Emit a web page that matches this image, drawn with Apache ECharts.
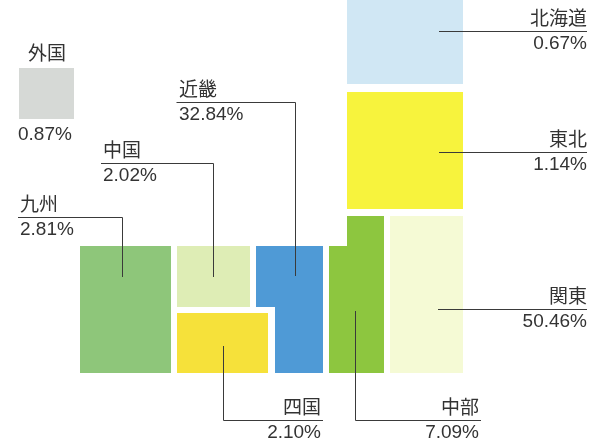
<!DOCTYPE html>
<html>
<head>
<meta charset="utf-8">
<script src="https://cdn.jsdelivr.net/npm/echarts@6/dist/echarts.min.js"></script>
<style>
html,body{margin:0;padding:0;background:#fff;}
#chart{width:599px;height:445px;}
</style>
</head>
<body>
<div id="chart"></div>
<script>
// ---- data ----
const regions = ['北海道', '東北', '関東', '中部', '近畿', '中国', '四国', '九州', '外国'];
const shares = [0.67, 1.14, 50.46, 7.09, 32.84, 2.02, 2.10, 2.81, 0.87];

// ---- styles ----
const regionColors = ['#d0e7f4', '#f7f33d', '#f5fad5', '#8dc63f', '#4f9ad6', '#deedb5', '#f6e13a', '#8ec67a', '#d6d9d6'];

// ---- tile-map layout (schematic shapes, in layout units) ----
const tileShapes = {
  '北海道': [[347, -5], [463, -5], [463, 84], [347, 84]],
  '東北': [[347, 92], [463, 92], [463, 209], [347, 209]],
  '関東': [[390, 216], [463, 216], [463, 373], [390, 373]],
  '中部': [[329, 246], [347, 246], [347, 216], [384, 216], [384, 373], [329, 373]],
  '近畿': [[256, 246], [323, 246], [323, 373], [275, 373], [275, 307], [256, 307]],
  '中国': [[177, 246], [250, 246], [250, 307], [177, 307]],
  '四国': [[177, 313], [268, 313], [268, 373], [177, 373]],
  '九州': [[80, 246], [171, 246], [171, 373], [80, 373]],
  '外国': [[19, 68], [74, 68], [74, 119], [19, 119]]
};
// leader lines and label anchors
const labelLayout = {
  '北海道': {line: [[439, 31.5], [587, 31.5]], anchor: [587, 31.5], align: 'right'},
  '東北': {line: [[439, 152.5], [587, 152.5]], anchor: [587, 152.5], align: 'right'},
  '関東': {line: [[438, 309.5], [587, 309.5]], anchor: [587, 309.5], align: 'right'},
  '中部': {line: [[355.5, 311], [355.5, 420.5], [481, 420.5]], anchor: [479, 420.5], align: 'right'},
  '四国': {line: [[223.5, 346], [223.5, 420.5], [323, 420.5]], anchor: [321, 420.5], align: 'right'},
  '近畿': {line: [[176.5, 102.5], [295.5, 102.5], [295.5, 276]], anchor: [179, 102.5], align: 'left'},
  '中国': {line: [[101, 163.5], [213.5, 163.5], [213.5, 277]], anchor: [103, 163.5], align: 'left'},
  '九州': {line: [[18, 217.5], [122.5, 217.5], [122.5, 277]], anchor: [20, 217.5], align: 'left'},
  '外国': {line: null, nameAt: [47, 64], nameAlign: 'center', pctAt: [18, 125], align: 'left'}
};

const FONT = "'Liberation Sans', 'Noto Sans CJK JP', sans-serif";
const TEXT_COLOR = '#333333';
const LINE_COLOR = '#3a3a3a';

const chart = echarts.init(document.getElementById('chart'), null, {renderer: 'canvas'});

function renderItem(params, api) {
  const idx = api.value(0);
  const name = regions[idx];
  const pct = shares[idx].toFixed(2) + '%';
  const pts = tileShapes[name].map(p => api.coord(p));
  const lay = labelLayout[name];
  const children = [{
    type: 'polygon',
    shape: {points: pts},
    style: {fill: regionColors[idx], stroke: null}
  }];
  const textStyleBase = {fontFamily: FONT, fontSize: 19, fill: TEXT_COLOR};
  if (lay.line) {
    children.push({
      type: 'polyline',
      shape: {points: lay.line.map(p => api.coord(p))},
      style: {stroke: LINE_COLOR, lineWidth: 1, fill: null},
      z2: 10
    });
    const a = api.coord(lay.anchor);
    children.push({
      type: 'text', z2: 11,
      style: Object.assign({}, textStyleBase, {text: name, x: a[0], y: a[1] - 2, align: lay.align, verticalAlign: 'bottom'})
    });
    children.push({
      type: 'text', z2: 11,
      style: Object.assign({}, textStyleBase, {text: pct, x: a[0], y: a[1] + 3, align: lay.align, verticalAlign: 'top'})
    });
  } else {
    const n = api.coord(lay.nameAt);
    const p = api.coord(lay.pctAt);
    children.push({
      type: 'text', z2: 11,
      style: Object.assign({}, textStyleBase, {text: name, x: n[0], y: n[1], align: lay.nameAlign, verticalAlign: 'bottom'})
    });
    children.push({
      type: 'text', z2: 11,
      style: Object.assign({}, textStyleBase, {text: pct, x: p[0], y: p[1], align: lay.align, verticalAlign: 'top'})
    });
  }
  return {type: 'group', children: children};
}

chart.setOption({
  backgroundColor: '#ffffff',
  animation: false,
  grid: {left: 0, right: 0, top: 0, bottom: 0},
  xAxis: {type: 'value', min: 0, max: 599, show: false},
  yAxis: {type: 'value', min: 0, max: 445, inverse: true, show: false},
  series: [{
    type: 'custom',
    renderItem: renderItem,
    data: regions.map((r, i) => [i, shares[i]]),
    clip: false
  }]
});
</script>
</body>
</html>
